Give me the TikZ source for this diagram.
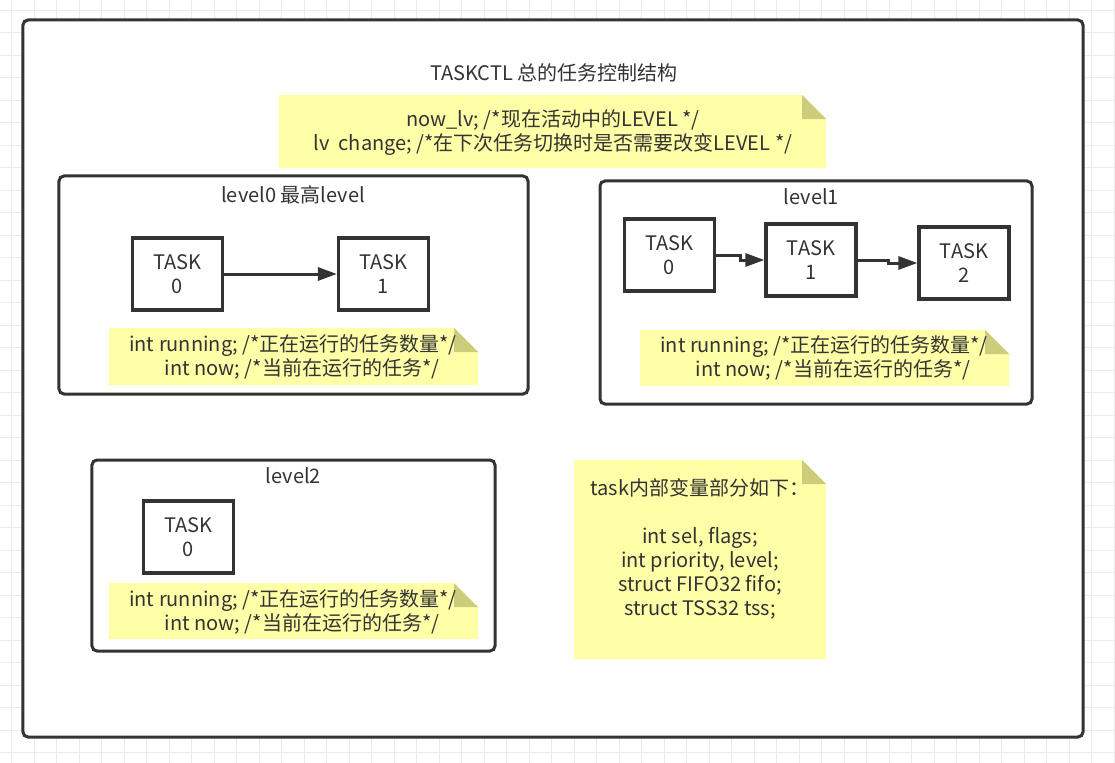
\documentclass[tikz,border=0pt]{standalone}
\usepackage{fontspec}
\setmainfont{Noto Sans CJK SC}
\usetikzlibrary{arrows.meta}
\definecolor{ink}{HTML}{333333}
\definecolor{notefill}{HTML}{FFFFA8}
\definecolor{notefold}{HTML}{CCCC7B}
\definecolor{gridc}{HTML}{EBEBEB}
\newcommand{\stickynote}[4]{%
  \fill[notefill] (#1,#2) -- (#3-24,#2) -- (#3,#2+24) -- (#3,#4) -- (#1,#4) -- cycle;
  \fill[notefold] (#3-24,#2) -- (#3-24,#2+24) -- (#3,#2+24) -- cycle;
}
\newcommand{\fs}{\fontsize{20bp}{24bp}\selectfont}
\begin{document}
\begin{tikzpicture}[x=1bp,y=-1bp,
  every node/.style={text=ink, font=\fs},
  container/.style={draw=ink, line width=3bp, rounded corners=5bp, fill=white, inner sep=0},
  taskbox/.style={draw=ink, line width=3.2bp, minimum width=90bp, minimum height=72bp, align=center, inner sep=0, fill=white},
  notetext/.style={align=center, inner sep=0},
  lbl/.style={inner sep=0},
  arr/.style={draw=ink, line width=3bp, -{Triangle[length=19bp,width=13bp]}}
]
\useasboundingbox (0,0) rectangle (1115,763);
\fill[white] (0,0) rectangle (1115,763);
% grid
\foreach \k in {0,...,49} {
  \draw[gridc, line width=0.9bp] (11.5+22.5*\k,0) -- (11.5+22.5*\k,763);
}
\foreach \k in {0,...,33} {
  \draw[gridc, line width=0.9bp] (0,10+22.5*\k) -- (1115,10+22.5*\k);
}
% outer frame
\node[container, minimum width=1060bp, minimum height=717bp] (outer) at (553,378.5) {};
\node[lbl] (title) at (554,73) {TASKCTL 总的任务控制结构};
% top note
\stickynote{279}{95}{826}{168}
\node[notetext] (note1) at (553,133) {now\_lv; /*现在活动中的LEVEL */\\lv\ \ change; /*在下次任务切换时是否需要改变LEVEL */};

% level0
\node[container, minimum width=469bp, minimum height=218bp] (lv0) at (293.5,285) {};
\node[lbl] (lv0title) at (293,195) {level0 最高level};
\node[taskbox] (l0t0) at (177.5,274) {TASK\\0};
\node[taskbox] (l0t1) at (383.5,274) {TASK\\1};
\draw[arr] (l0t0.east) -- (l0t1.west);
\stickynote{109}{328}{478}{385}
\node[notetext] (lv0note) at (293,357) {int running; /*正在运行的任务数量*/\\\hspace*{18bp}int now; /*当前在运行的任务*/};

% level1
\node[container, minimum width=432bp, minimum height=223bp] (lv1) at (816,292.5) {};
\node[lbl] (lv1title) at (811.5,197) {level1};
\node[taskbox] (l1t0) at (669.5,255) {TASK\\0};
\node[taskbox] (l1t1) at (811,260) {TASK\\1};
\node[taskbox] (l1t2) at (964,263) {TASK\\2};
\draw[arr] (l1t0.east) -- ++(24,0) |- (l1t1.west);
\draw[arr] (l1t1.east) -- ++(31,0) |- (l1t2.west);
\stickynote{640}{330}{1009}{386}
\node[notetext] (lv1note) at (824,358) {int running; /*正在运行的任务数量*/\\\hspace*{18bp}int now; /*当前在运行的任务*/};

% level2
\node[container, minimum width=403bp, minimum height=191bp] (lv2) at (293.5,555.5) {};
\node[lbl] (lv2title) at (293.5,476) {level2};
\node[taskbox] (l2t0) at (188.5,537) {TASK\\0};
\stickynote{109}{583}{478}{639}
\node[notetext] (lv2note) at (293,612) {int running; /*正在运行的任务数量*/\\\hspace*{18bp}int now; /*当前在运行的任务*/};

% task note
\stickynote{574}{460}{826}{659}
\node[notetext] (tasknote) at (700,549) {task内部变量部分如下：\\[24bp]int sel, flags;\\int priority, level;\\struct FIFO32 fifo;\\struct TSS32 tss;};
\end{tikzpicture}
\end{document}
